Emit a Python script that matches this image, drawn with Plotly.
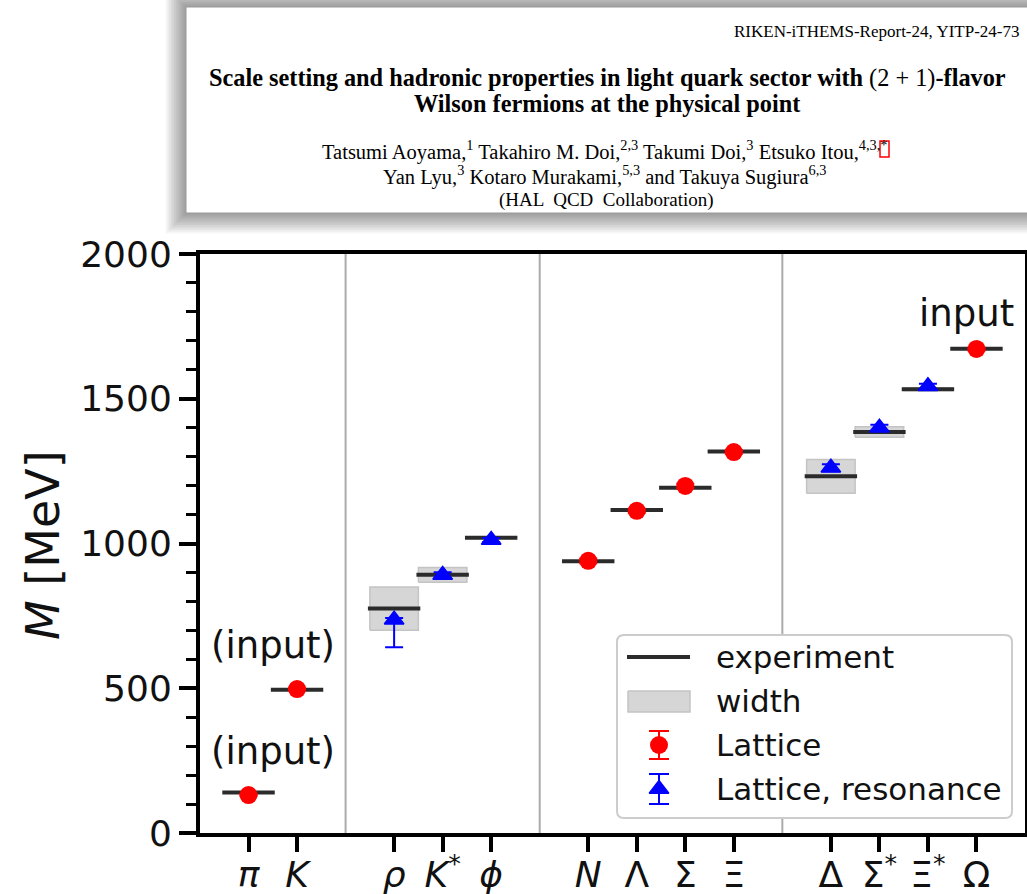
import plotly.graph_objects as go

# ---------------------------------------------------------------------------
# Hadron spectrum: experiment vs. lattice (HAL QCD, (2+1)-flavor Wilson)
# ---------------------------------------------------------------------------
tick_labels = ["<i>π</i>", "<i>K</i>", "<i>ρ</i>", "<i>K</i><sup>*</sup>", "<i>ϕ</i>",
               "<i>N</i>", "Λ", "Σ", "Ξ", "Δ", "Σ<sup>*</sup>", "Ξ<sup>*</sup>", "Ω"]
x_pos = [0, 1, 3, 4, 5, 7, 8, 9, 10, 12, 13, 14, 15]
group_edges = [2, 6, 11]

# experimental masses and decay widths [MeV]
exp_mass = [139.6, 495.0, 775.3, 891.7, 1019.5, 938.9, 1115.7, 1193.0, 1318.0,
            1232.0, 1385.0, 1533.0, 1672.5]
exp_width = [0, 0, 149.1, 50.8, 4.3, 0, 0, 0, 0, 117.0, 36.0, 9.1, 0]

# lattice results [MeV]
lat_mass = [131, 497, 737, 891, 1012, 940, 1113, 1199, 1316, 1262, 1400, 1543, 1672]
lat_err_plus = [3, 3, 6, 10, 7, 8, 7, 7, 6, 12, 10, 9, 5]
lat_err_minus = [3, 3, 95, 10, 7, 8, 7, 7, 6, 12, 10, 9, 5]
resonance = [False, False, True, True, True, False, False, False, False,
             True, True, True, False]

# text labels: (x, y, text)
notes = [(0.5, 649, "(input)"), (0.5, 280, "(input)"), (14.8, 1794, "input")]

HALF = 0.5
EXP_COLOR = "#2b2b2b"
BOX_FILL = "#d6d6d6"
BOX_EDGE = "#c4c4c4"
SEP_COLOR = "#ababab"
FONT = "DejaVu Sans"

# page geometry (pixels)
W, H = 1027, 894
L, R, T, B = 200, 1025, 254, 833


def fx(px):
    return (px - L) / (R - L)


def fy(py):
    return (B - py) / (B - T)


fig = go.Figure()

# decay-width boxes
bx, by = [], []
for x, m, g in zip(x_pos, exp_mass, exp_width):
    if g > 0:
        bx += [x - HALF, x + HALF, x + HALF, x - HALF, x - HALF, None]
        by += [m - g / 2, m - g / 2, m + g / 2, m + g / 2, m - g / 2, None]
fig.add_trace(go.Scatter(x=bx, y=by, mode="lines", fill="toself",
                         fillcolor=BOX_FILL, line=dict(color=BOX_EDGE, width=1.5),
                         hoverinfo="skip", showlegend=False))

# experimental masses
ex, ey = [], []
for x, m in zip(x_pos, exp_mass):
    ex += [x - HALF - 0.04, x + HALF + 0.04, None]
    ey += [m, m, None]
fig.add_trace(go.Scatter(x=ex, y=ey, mode="lines",
                         line=dict(color=EXP_COLOR, width=4),
                         hoverinfo="skip", showlegend=False))

# lattice points
for is_res, color, symbol, size in [(False, "#ff0000", "circle", 18),
                                    (True, "#0000ff", "triangle-up", 17)]:
    idx = [i for i, r in enumerate(resonance) if r == is_res]
    fig.add_trace(go.Scatter(
        x=[x_pos[i] for i in idx], y=[lat_mass[i] for i in idx], mode="markers",
        marker=dict(color=color, symbol=symbol, size=size,
                    line=dict(color=color, width=1.5 if is_res else 0)),
        error_y=dict(type="data", symmetric=False,
                     array=[lat_err_plus[i] for i in idx],
                     arrayminus=[lat_err_minus[i] for i in idx],
                     color=color, thickness=2, width=9),
        showlegend=False))

for x, y, t in notes:
    fig.add_annotation(x=x, y=y, text=t, showarrow=False, xanchor="center",
                       yanchor="middle", font=dict(family=FONT, size=37, color="#111"))

shapes = []
for e in group_edges:
    shapes.append(dict(type="line", xref="x", yref="paper", x0=e, x1=e, y0=0, y1=1,
                       line=dict(color=SEP_COLOR, width=2), layer="between"))

# ---------------- legend (pixel layout on an overlay axis) ----------------
lx0, lx1, ly0, ly1, rad = 617, 1012, 635, 818, 7
legend_path = (f"M {fx(lx0 + rad)},{fy(ly0)} L {fx(lx1 - rad)},{fy(ly0)} "
               f"Q {fx(lx1)},{fy(ly0)} {fx(lx1)},{fy(ly0 + rad)} "
               f"L {fx(lx1)},{fy(ly1 - rad)} Q {fx(lx1)},{fy(ly1)} {fx(lx1 - rad)},{fy(ly1)} "
               f"L {fx(lx0 + rad)},{fy(ly1)} Q {fx(lx0)},{fy(ly1)} {fx(lx0)},{fy(ly1 - rad)} "
               f"L {fx(lx0)},{fy(ly0 + rad)} Q {fx(lx0)},{fy(ly0)} {fx(lx0 + rad)},{fy(ly0)} Z")
shapes.append(dict(type="path", xref="paper", yref="paper", path=legend_path,
                   fillcolor="white", line=dict(color="#cccccc", width=2), layer="between"))

rows = [657, 701, 745, 789]
fig.add_trace(go.Scatter(x=[627, 690], y=[rows[0], rows[0]], mode="lines",
                         line=dict(color=EXP_COLOR, width=4), xaxis="x2", yaxis="y2",
                         hoverinfo="skip", showlegend=False))
fig.add_trace(go.Scatter(x=[628, 690, 690, 628, 628],
                         y=[rows[1] - 10, rows[1] - 10, rows[1] + 11, rows[1] + 11, rows[1] - 10],
                         mode="lines", fill="toself", fillcolor=BOX_FILL,
                         line=dict(color=BOX_EDGE, width=1.5), xaxis="x2", yaxis="y2",
                         hoverinfo="skip", showlegend=False))
fig.add_trace(go.Scatter(x=[659], y=[rows[2]], mode="markers",
                         marker=dict(color="#ff0000", symbol="circle", size=18),
                         error_y=dict(type="constant", value=14, color="#ff0000",
                                      thickness=2, width=10),
                         xaxis="x2", yaxis="y2", hoverinfo="skip", showlegend=False))
fig.add_trace(go.Scatter(x=[659], y=[rows[3]], mode="markers",
                         marker=dict(color="#0000ff", symbol="triangle-up", size=17,
                                     line=dict(color="#0000ff", width=1.5)),
                         error_y=dict(type="constant", value=15, color="#0000ff",
                                      thickness=2, width=10),
                         xaxis="x2", yaxis="y2", hoverinfo="skip", showlegend=False))
for yy, txt in zip(rows, ["experiment", "width", "Lattice", "Lattice, resonance"]):
    fig.add_annotation(xref="x2", yref="y2", x=714, y=yy, text=txt, showarrow=False,
                       xanchor="left", yanchor="middle",
                       font=dict(family=FONT, size=31, color="#111"))

# ---------------- paper header ----------------
hx0, hx1, hy0, hy1 = 186, 1060, 7, 213
for i in range(12, 0, -1):
    d = i * 1.7
    shapes.append(dict(type="rect", xref="paper", yref="paper",
                       x0=fx(hx0 - d), x1=fx(hx1 + d), y0=fy(hy0 - d), y1=fy(hy1 + d),
                       fillcolor="rgba(0,0,0,0.035)", line=dict(width=0), layer="above"))
shapes.append(dict(type="rect", xref="paper", yref="paper",
                   x0=fx(hx0), x1=fx(hx1), y0=fy(hy0), y1=fy(hy1),
                   fillcolor="white", line=dict(color="#9a9a9a", width=1), layer="above"))
shapes.append(dict(type="rect", xref="paper", yref="paper",
                   x0=fx(880), x1=fx(889), y0=fy(141), y1=fy(157),
                   fillcolor="rgba(0,0,0,0)", line=dict(color="#ff0000", width=1.5),
                   layer="above"))

SERIF = "Liberation Serif"
header = [
    (1022, 32, "RIKEN-iTHEMS-Report-24, YITP-24-73", 17, "right"),
    (607, 78, "<b>Scale setting and hadronic properties in light quark sector with </b>"
              "(2 + 1)<b>-flavor</b>", 24.3, "center"),
    (607, 104, "<b>Wilson fermions at the physical point</b>", 24.3, "center"),
    (605, 151, "Tatsumi Aoyama,<sup>1</sup> Takahiro M. Doi,<sup>2,3</sup> Takumi Doi,"
               "<sup>3</sup> Etsuko Itou,<sup>4,3,*</sup>", 20.5, "center"),
    (604, 175, "Yan Lyu,<sup>3</sup> Kotaro Murakami,<sup>5,3</sup> and Takuya Sugiura"
               "<sup>6,3</sup>", 20.5, "center"),
    (606, 200, "(HAL  QCD  Collaboration)", 19, "center"),
]
for px, py, txt, sz, anc in header:
    fig.add_annotation(xref="paper", yref="paper", x=fx(px), y=fy(py), text=txt,
                       showarrow=False, xanchor=anc, yanchor="middle",
                       font=dict(family=SERIF, size=sz, color="black"))

# y-axis title
fig.add_annotation(xref="paper", yref="paper", x=fx(43), y=fy(545),
                   text="<i>M</i> [MeV]", textangle=-90, showarrow=False,
                   xanchor="center", yanchor="middle",
                   font=dict(family=FONT, size=46, color="#111"))

fig.update_layout(
    width=W, height=H,
    margin=dict(l=L, r=W - R, t=T, b=H - B, pad=0),
    paper_bgcolor="white", plot_bgcolor="white",
    shapes=shapes,
    xaxis=dict(range=[-1, 16], tickvals=x_pos, ticktext=tick_labels,
               ticks="outside", ticklen=15, tickwidth=4, tickcolor="black",
               showline=True, linewidth=4, linecolor="black", mirror=True,
               showgrid=False, zeroline=False, automargin=False,
               ticklabelstandoff=-8,
               tickfont=dict(family=FONT, size=36, color="#111")),
    yaxis=dict(range=[0, 2000], tickvals=[0, 500, 1000, 1500, 2000],
               ticks="outside", ticklen=17, tickwidth=4, tickcolor="black",
               minor=dict(dtick=100, ticks="outside", ticklen=10, tickwidth=3,
                          tickcolor="black", showgrid=False),
               showline=True, linewidth=4, linecolor="black", mirror=True,
               showgrid=False, zeroline=False, automargin=False,
               tickfont=dict(family=FONT, size=36, color="#111")),
    xaxis2=dict(range=[L, R], overlaying="x", anchor="y2", visible=False),
    yaxis2=dict(range=[B, T], overlaying="y", anchor="x2", visible=False),
)

fig.write_html("out.html")
